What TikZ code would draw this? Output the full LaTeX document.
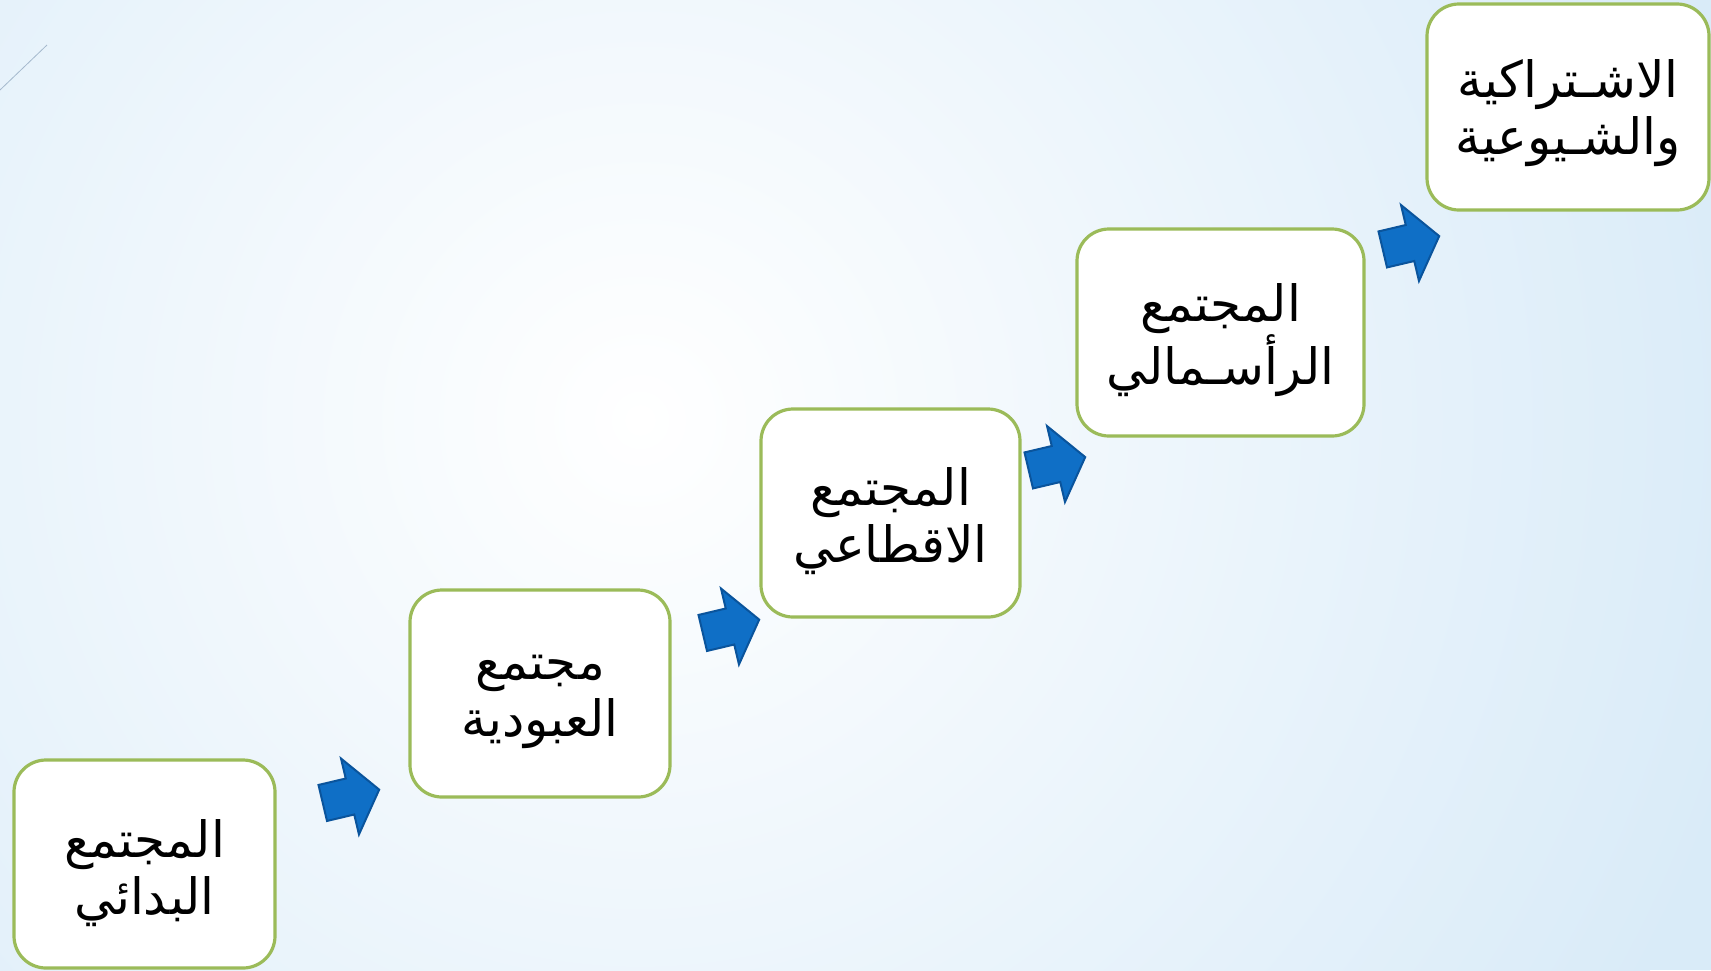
\documentclass[tikz,border=0pt]{standalone}
\usepackage{fontspec}
\newfontfamily\arabicfont[Script=Arabic]{DejaVu Sans}
\TeXXeTstate=1
\definecolor{bgedge}{RGB}{217,235,248}
\definecolor{boxgreen}{RGB}{155,187,89}
\definecolor{arrfill}{RGB}{15,111,198}
\definecolor{arrdraw}{RGB}{10,84,156}
\definecolor{thinline}{RGB}{165,185,205}
\tikzset{
  stagebox/.style={draw=boxgreen, line width=3.2pt, fill=white, rounded corners=32pt, inner sep=0pt},
  stagetext/.style={align=center, font=\arabicfont\fontsize{50}{57}\selectfont, inner sep=0pt},
  blockarrow/.style={fill=arrfill, draw=arrdraw, line width=2pt, line join=miter}
}
\newcommand{\arabicline}[1]{\beginR #1\endR}
\newcommand{\stagearrow}[2]{%
  \begin{scope}[shift={#1}, rotate=13.3]
    \path[blockarrow] (-28,-18.5) -- (0,-18.5) -- (0,-39) -- (30,0) -- (0,39) -- (0,18.5) -- (-28,18.5) -- cycle;
    \coordinate (#2) at (0,0);
  \end{scope}}
\begin{document}
\begin{tikzpicture}[x=1pt, y=-1pt]
  \useasboundingbox (0,0) rectangle (1711,970);
  \begin{scope}
    \clip (0,0) rectangle (1711,970);
    \fill[bgedge] (0,0) rectangle (1711,970);
    \shade[inner color=white, outer color=bgedge] (640,420) circle (1150);
  \end{scope}
  \draw[thinline, line width=0.8pt] (0,90) -- (47,45);

  % boxes
  \path[stagebox] (14,760) rectangle (275,968);
  \path[stagebox] (410,590) rectangle (670,797);
  \path[stagebox] (761,409) rectangle (1020,617);
  \path[stagebox] (1077,229) rectangle (1364,436);
  \path[stagebox] (1427,4) rectangle (1709,210);

  \node[stagetext] (s1) at (144.5,873) {\arabicline{المجتمع}\\\arabicline{البدائي}};
  \node[stagetext] (s2) at (540,702) {\arabicline{مجتمع}\\\arabicline{العبودية}};
  \node[stagetext] (s3) at (890.5,521) {\arabicline{المجتمع}\\\arabicline{الاقطاعي}};
  \node[stagetext] (s4) at (1220.5,340) {\arabicline{المجتمع}\\\arabicline{الرأسـمالي}};
  \node[stagetext] (s5) at (1568,113) {\arabicline{الاشـتراكية}\\\arabicline{والشـيوعية}};

  % arrows
  \stagearrow{(350,796.5)}{a1}
  \stagearrow{(730,626.5)}{a2}
  \stagearrow{(1056,464)}{a3}
  \stagearrow{(1410,243)}{a4}
\end{tikzpicture}
\end{document}
